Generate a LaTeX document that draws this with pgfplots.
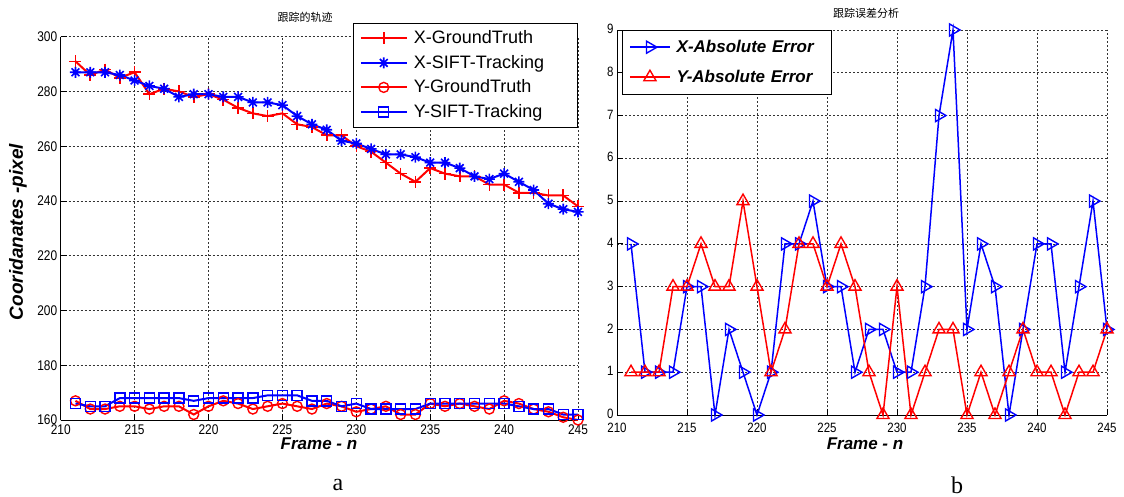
\documentclass[border=0pt]{standalone}
\usepackage{fontspec}
\setmainfont{Liberation Sans}
\newfontfamily\tickf[FakeStretch=0.85]{Liberation Sans}
\newfontfamily\cjk{Noto Sans CJK SC}
\newfontfamily\capf{Liberation Serif}
\usepackage{pgfplots}
\pgfplotsset{compat=1.18}
\usepackage{pgfplotstable}

\pgfdeclareplotmark{mstar}{%
 \pgfpathmoveto{\pgfqpoint{-\pgfplotmarksize}{0pt}}\pgfpathlineto{\pgfqpoint{\pgfplotmarksize}{0pt}}%
 \pgfpathmoveto{\pgfqpoint{0pt}{-\pgfplotmarksize}}\pgfpathlineto{\pgfqpoint{0pt}{\pgfplotmarksize}}%
 \pgfpathmoveto{\pgfqpoint{-.707\pgfplotmarksize}{-.707\pgfplotmarksize}}\pgfpathlineto{\pgfqpoint{.707\pgfplotmarksize}{.707\pgfplotmarksize}}%
 \pgfpathmoveto{\pgfqpoint{-.707\pgfplotmarksize}{.707\pgfplotmarksize}}\pgfpathlineto{\pgfqpoint{.707\pgfplotmarksize}{-.707\pgfplotmarksize}}%
 \pgfusepathqstroke}

\pgfplotstableread{
f xgt xsift ygt ysift
211 291 287 167 166
212 286 287 164 165
213 288 287 164 165
214 285 286 165 168
215 287 284 165 168
216 279 282 164 168
217 281 281 165 168
218 280 278 165 168
219 278 279 162 167
220 279 279 165 168
221 277 278 167 168
222 274 278 166 168
223 272 276 164 168
224 271 276 165 169
225 272 275 166 169
226 268 271 165 169
227 267 268 164 167
228 264 266 166 167
229 264 262 165 165
230 260 261 163 166
231 258 259 164 164
232 254 257 165 164
233 250 257 162 164
234 247 256 162 164
235 252 254 166 166
236 250 254 165 166
237 249 252 166 166
238 249 249 165 166
239 246 248 164 166
240 246 250 167 166
241 243 247 166 165
242 243 244 164 164
243 242 239 163 164
244 242 237 161 162
245 238 236 160 162
}\traj

\pgfplotstableread{
f ex ey
211 4 1
212 1 1
213 1 1
214 1 3
215 3 3
216 3 4
217 0 3
218 2 3
219 1 5
220 0 3
221 1 1
222 4 2
223 4 4
224 5 4
225 3 3
226 3 4
227 1 3
228 2 1
229 2 0
230 1 3
231 1 0
232 3 1
233 7 2
234 9 2
235 2 0
236 4 1
237 3 0
238 0 1
239 2 2
240 4 1
241 4 1
242 1 0
243 3 1
244 5 1
245 2 2
}\err

\pgfplotsset{
  mybase/.style={
    scale only axis, anchor=south west, clip=false,
    axis x line*=bottom, axis y line*=left,
    axis line style={line width=0.8pt,black,-},
    tick style={black,line width=0.8pt}, major tick length=6pt, tick align=inside,
    grid=major, major grid style={dash pattern=on 2pt off 2pt, line width=0.7pt, black!80},
    /pgf/number format/assume math mode=true,
    tick label style={font=\tickf\fontsize{14}{14}\selectfont},
    xticklabel style={yshift=-1.5pt},
    xmin=210, xmax=245, xtick={210,215,...,245},
    legend cell align=left,
  }
}

\begin{document}
\begin{tikzpicture}[x=1pt,y=1pt]
\path[use as bounding box] (0,0) rectangle (1124,497);

\begin{axis}[mybase,
  at={(60.7pt,77pt)}, width=517.3pt, height=383.3pt,
  ymin=160, ymax=300, ytick={160,180,...,300},
  legend image code/.code={\draw[mark repeat=2,mark phase=2,#1] plot coordinates {(0pt,0pt) (23pt,0pt) (46pt,0pt)}; \path (52pt,0pt);},
  legend style={at={(0.998,1.036)}, anchor=north east, draw=black, fill=white,
    inner xsep=7pt, inner ysep=6.8pt, row sep=7.5pt,
    font=\fontsize{18}{18}\selectfont,
    nodes={inner sep=0pt, text height=14pt, text depth=3pt},
    /tikz/every even column/.append style={text width=156pt}},
]
\addplot[red, line width=2pt, mark=+, mark size=6pt, mark options={solid,line width=1.6pt}] table[x=f,y=xgt]{\traj};
\addlegendentry{X-GroundTruth}
\addplot[blue, line width=2pt, mark=mstar, mark size=5.5pt, mark options={solid,line width=1.6pt}] table[x=f,y=xsift]{\traj};
\addlegendentry{X-SIFT-Tracking}
\addplot[red, line width=2pt, mark=o, mark size=5pt, mark options={solid,line width=1.4pt}] table[x=f,y=ygt]{\traj};
\addlegendentry{Y-GroundTruth}
\addplot[blue, line width=2pt, mark=square, mark size=5pt, mark options={solid,line width=1.4pt}] table[x=f,y=ysift]{\traj};
\addlegendentry{Y-SIFT-Tracking}
\end{axis}

\begin{axis}[mybase,
  at={(617pt,82pt)}, width=490pt, height=385pt,
  ymin=0, ymax=9, ytick={0,1,...,9},
  tick label style={font=\tickf\fontsize{13.5}{13.5}\selectfont},
  xticklabel style={yshift=-3pt},
  yticklabel style={yshift=1pt},
  legend image code/.code={\draw[mark repeat=2,mark phase=2,#1] plot coordinates {(0pt,0pt) (20pt,0pt) (40pt,0pt)}; \path (46pt,0pt);},
  legend style={at={(0.0102,1.0)}, anchor=north west, draw=black, fill=white,
    inner xsep=7pt, inner ysep=8.5pt, row sep=13pt,
    font=\bfseries\itshape\fontsize{17}{17}\selectfont,
    nodes={inner sep=0pt, text height=14pt, text depth=3pt},
    /tikz/every even column/.append style={text width=147pt}},
]
\addplot[blue, line width=1.5pt, mark=triangle, mark size=7pt, mark options={solid,line width=1.4pt,rotate=-90}] table[x=f,y=ex]{\err};
\addlegendentry{X-Absolute Error}
\addplot[red, line width=1.5pt, mark=triangle, mark size=7pt, mark options={solid,line width=1.4pt}] table[x=f,y=ey]{\err};
\addlegendentry{Y-Absolute Error}
\end{axis}

\node[font=\cjk\fontsize{11}{11}\selectfont] at (305,480) {跟踪的轨迹};
\node[font=\cjk\fontsize{11}{11}\selectfont] at (866,484) {跟踪误差分析};
\node[font=\bfseries\itshape\fontsize{17}{17}\selectfont] at (319,53) {Frame - n};
\node[font=\bfseries\itshape\fontsize{17}{17}\selectfont] at (865,53) {Frame - n};
\node[font=\bfseries\itshape\fontsize{19}{19}\selectfont, rotate=90] at (18,265) {Cooridanates -pixel};
\node[font=\capf\fontsize{24}{24}\selectfont] at (338,12) {a};
\node[font=\capf\fontsize{24}{24}\selectfont] at (957,12) {b};
\end{tikzpicture}
\end{document}
